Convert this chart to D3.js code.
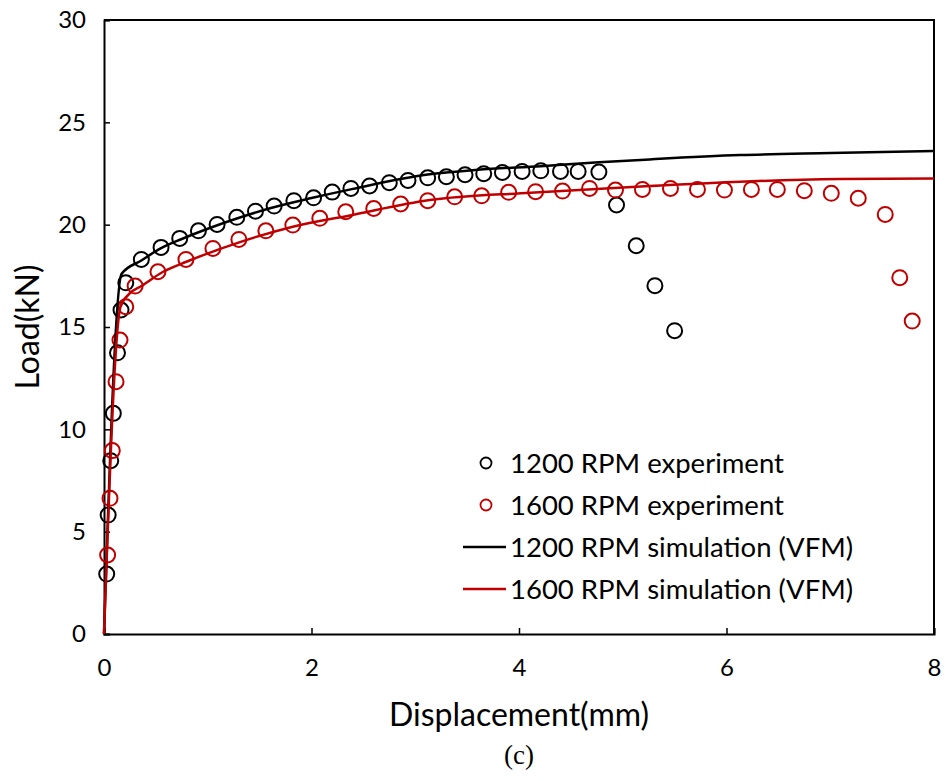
<!DOCTYPE html>
<html>
<head>
<meta charset="utf-8">
<script src="https://cdn.jsdelivr.net/npm/d3@7"></script>
<style>
  html, body { margin: 0; padding: 0; background: #fff; }
  svg { display: block; }
  text { fill: #000; }
</style>
</head>
<body>
<svg id="chart" width="945" height="781"></svg>
<script>
// Load–displacement data (displacement in mm, load in kN)
const exp1200Disp = [0.026, 0.04, 0.065, 0.09, 0.13, 0.164, 0.21, 0.36, 0.55, 0.73, 0.91, 1.09, 1.28, 1.46, 1.64, 1.83, 2.02, 2.20, 2.38, 2.56, 2.75, 2.93, 3.12, 3.30, 3.48, 3.66, 3.84, 4.03, 4.21, 4.40, 4.57, 4.77, 4.94, 5.13, 5.31, 5.50];
const exp1200Load = [2.93, 5.81, 8.47, 10.78, 13.74, 15.83, 17.16, 18.30, 18.89, 19.33, 19.70, 20.01, 20.36, 20.66, 20.91, 21.17, 21.31, 21.59, 21.77, 21.89, 22.05, 22.16, 22.29, 22.34, 22.44, 22.49, 22.55, 22.60, 22.63, 22.60, 22.60, 22.57, 20.96, 18.97, 17.02, 14.82];

const exp1600Disp = [0.035, 0.058, 0.08, 0.116, 0.154, 0.21, 0.30, 0.52, 0.79, 1.05, 1.30, 1.56, 1.82, 2.08, 2.33, 2.60, 2.86, 3.12, 3.38, 3.64, 3.90, 4.16, 4.42, 4.68, 4.93, 5.19, 5.46, 5.72, 5.98, 6.24, 6.49, 6.75, 7.01, 7.27, 7.53, 7.67, 7.79];
const exp1600Load = [3.86, 6.63, 8.96, 12.33, 14.36, 15.99, 17.00, 17.70, 18.30, 18.84, 19.28, 19.70, 19.98, 20.31, 20.63, 20.79, 21.01, 21.17, 21.36, 21.41, 21.58, 21.61, 21.64, 21.77, 21.69, 21.72, 21.77, 21.72, 21.69, 21.72, 21.72, 21.66, 21.53, 21.29, 20.50, 17.41, 15.29];

const sim1200Disp = [0, 0.17, 0.36, 0.55, 0.75, 1.0, 1.28, 1.6, 2.0, 2.4, 3.12, 3.6, 4.21, 4.77, 5.26, 6.13, 7.0, 8.0];
const sim1200Load = [0, 17.6, 18.25, 18.85, 19.3, 19.8, 20.3, 20.8, 21.3, 21.75, 22.45, 22.68, 22.86, 23.05, 23.19, 23.4, 23.5, 23.6];

const sim1600Disp = [0, 0.16, 0.25, 0.36, 0.57, 0.8, 1.31, 1.82, 2.37, 3.14, 4.11, 5.26, 6.13, 7.09, 8.0];
const sim1600Load = [0, 16.0, 16.65, 17.0, 17.7, 18.2, 19.15, 19.9, 20.45, 21.2, 21.56, 21.89, 22.1, 22.23, 22.26];

const xTicks = [0, 2, 4, 6, 8];
const yTicks = [0, 5, 10, 15, 20, 25, 30];

const legendLabels = ["1200 RPM experiment", "1600 RPM experiment", "1200 RPM simulation (VFM)", "1600 RPM simulation (VFM)"];

const BLACK = "#000000";
const RED = "#C00000";
const SANS = "Lato, 'Open Sans', sans-serif";

const svg = d3.select("#chart");
const plot = { left: 104, right: 934, top: 20, bottom: 634 };

const x = d3.scaleLinear().domain([0, 8]).range([plot.left, plot.right]);
const y = d3.scaleLinear().domain([0, 30]).range([plot.bottom, plot.top]);

const zip = (a, b) => a.map((v, i) => [v, b[i]]);
const exp1200 = zip(exp1200Disp, exp1200Load);
const exp1600 = zip(exp1600Disp, exp1600Load);
const sim1200 = zip(sim1200Disp, sim1200Load);
const sim1600 = zip(sim1600Disp, sim1600Load);

// Frame (top and right edges)
svg.append("path")
  .attr("d", `M${plot.left},${plot.top}H${plot.right}V${plot.bottom}`)
  .attr("fill", "none").attr("stroke", "#000").attr("stroke-width", 2);

// Axes with inward ticks
const xAxis = svg.append("g")
  .attr("transform", `translate(0,${plot.bottom})`)
  .call(d3.axisBottom(x).tickValues(xTicks).tickFormat(d3.format("d")).tickSize(-6).tickPadding(25));
const yAxis = svg.append("g")
  .attr("transform", `translate(${plot.left},0)`)
  .call(d3.axisLeft(y).tickValues(yTicks).tickFormat(d3.format("d")).tickSize(-6).tickPadding(18));

[xAxis, yAxis].forEach(g => {
  g.select(".domain").attr("stroke", "#000").attr("stroke-width", 2);
  g.selectAll(".tick line").attr("stroke", "#000").attr("stroke-width", 1.5);
  g.selectAll(".tick text").style("font-family", SANS).style("font-size", "24px").attr("fill", "#000");
});

// Experimental points
function drawPoints(data, color) {
  svg.append("g").selectAll("circle").data(data).join("circle")
    .attr("cx", d => x(d[0])).attr("cy", d => y(d[1]))
    .attr("r", 7.5)
    .attr("fill", "none").attr("stroke", color).attr("stroke-width", 2);
}
drawPoints(exp1200, BLACK);
drawPoints(exp1600, RED);

// Simulation curves
const line = d3.line().x(d => x(d[0])).y(d => y(d[1])).curve(d3.curveMonotoneX);
svg.append("path").datum(sim1200).attr("d", line)
  .attr("fill", "none").attr("stroke", BLACK).attr("stroke-width", 2.5);
svg.append("path").datum(sim1600).attr("d", line)
  .attr("fill", "none").attr("stroke", RED).attr("stroke-width", 2.5);

// Axis titles
svg.append("text").attr("x", (plot.left + plot.right) / 2).attr("y", 726)
  .attr("text-anchor", "middle").style("font-family", SANS).style("font-size", "32px")
  .text("Displacement(mm)");
svg.append("text").attr("transform", `translate(39,${(plot.top + plot.bottom) / 2}) rotate(-90)`)
  .attr("text-anchor", "middle").style("font-family", SANS).style("font-size", "32px")
  .text("Load(kN)");

// Panel caption
svg.append("text").attr("x", 519).attr("y", 764).attr("text-anchor", "middle")
  .style("font-family", "'Liberation Serif', 'DejaVu Serif', serif").style("font-size", "27px")
  .text("(c)");

// Legend
const legend = svg.append("g");
const rowY = [463, 505, 547, 589];
const legendColors = [BLACK, RED, BLACK, RED];
legendLabels.forEach((label, i) => {
  const g = legend.append("g").attr("transform", `translate(0,${rowY[i]})`);
  if (i < 2) {
    g.append("circle").attr("cx", 486).attr("cy", 0).attr("r", 5.5)
      .attr("fill", "none").attr("stroke", legendColors[i]).attr("stroke-width", 1.8);
  } else {
    g.append("line").attr("x1", 463).attr("x2", 506).attr("y1", 0).attr("y2", 0)
      .attr("stroke", legendColors[i]).attr("stroke-width", 2.5);
  }
  g.append("text").attr("x", 510).attr("y", 0).attr("dy", "0.36em")
    .style("font-family", SANS).style("font-size", "27.5px").text(label);
});
</script>
</body>
</html>
